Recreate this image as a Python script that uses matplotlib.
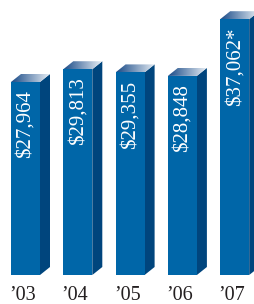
import matplotlib
matplotlib.use("Agg")
import matplotlib.pyplot as plt
from matplotlib.patches import Polygon
import numpy as np

years = ["\u201903", "\u201904", "\u201905", "\u201906", "\u201907"]
values = [27964, 29813, 29355, 28848, 37062]
labels = ["$27,964", "$29,813", "$29,355", "$28,848", "$37,062*"]

FRONT = "#0066a8"
SIDE = "#00457d"
TOP_L = "#1a4b88"
TOP_R = "#e6edf4"

W, H = 254, 304
fig = plt.figure(figsize=(W / 100, H / 100), dpi=100)
ax = fig.add_axes([0, 0, 1, 1])
ax.set_axis_off()

s = 193 / 27964.0          # px per unit
y0_px = 275                # baseline pixel from top
sp = 52.3
c0 = 25.5
bw = 29 / sp
ddx = 10 / sp
ddy = 8 / s

x = np.arange(len(values))
bars = ax.bar(x, values, width=bw, color=FRONT, linewidth=0, zorder=3)

cmap = matplotlib.colors.LinearSegmentedColormap.from_list("t", [TOP_L, TOP_R])
grad = np.linspace(0, 1, 64).reshape(1, -1)
for b, v in zip(bars, values):
    xl = b.get_x()
    xr = xl + b.get_width()
    side = Polygon([(xr, 0), (xr + ddx, ddy), (xr + ddx, v + ddy), (xr, v)],
                   closed=True, facecolor=SIDE, edgecolor="none", zorder=2)
    ax.add_patch(side)
    top = Polygon([(xl, v), (xl + ddx, v + ddy), (xr + ddx, v + ddy), (xr, v)],
                  closed=True, facecolor="none", edgecolor="none", zorder=2)
    ax.add_patch(top)
    im = ax.imshow(grad, cmap=cmap, extent=[xl, xr + ddx, v, v + ddy],
                   aspect="auto", zorder=2, interpolation="bilinear")
    im.set_clip_path(top)

ax.set_xlim(-c0 / sp, (W - c0) / sp)
ax.set_ylim(-(H - y0_px) / s, y0_px / s)

for xi, v, lab in zip(x, values, labels):
    ax.text(xi, v - 8 / s, lab, rotation=90, ha="center", va="top",
            color="white", fontsize=15, family="Liberation Serif", zorder=4)

for xi, yr in zip(x, years):
    ax.text(xi - 3 / sp, -21 / s, yr, ha="center", va="center", color="#231f20",
            fontsize=14.5, family="Liberation Serif")

fig.savefig("out.png", dpi=100)
